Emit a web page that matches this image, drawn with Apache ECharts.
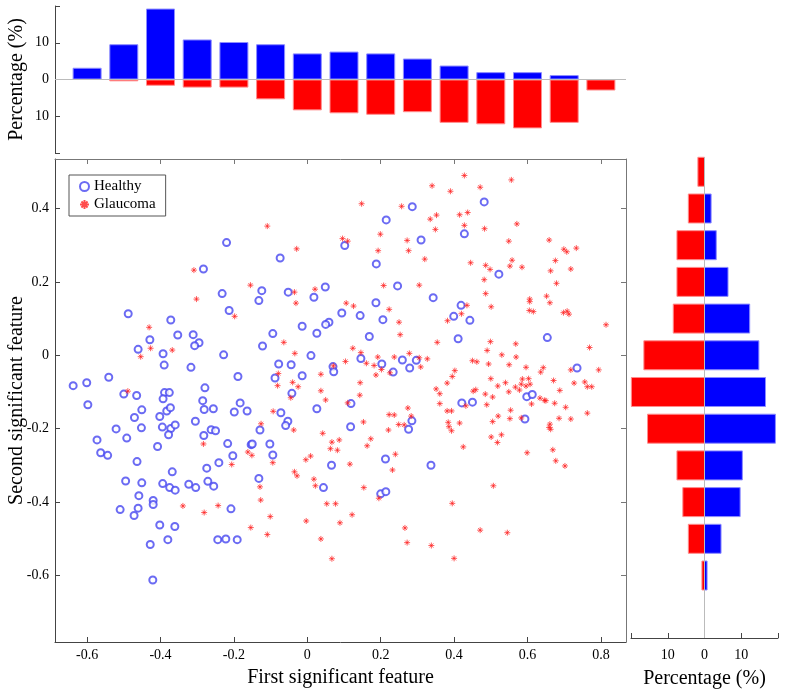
<!DOCTYPE html>
<html>
<head>
<meta charset="utf-8">
<script src="https://cdn.jsdelivr.net/npm/echarts@6/dist/echarts.min.js"></script>
<style>html,body{margin:0;padding:0;background:#fff}#c{width:785px;height:692px}</style>
</head>
<body>
<div id="c"></div>
<script>
// ---------------- data ----------------
var healthy = [
[-0.220,0.307],[-0.074,0.265],[-0.283,0.235],[-0.232,0.168],[-0.124,0.176],[-0.132,0.149],[-0.052,0.172],[0.018,0.158],[-0.488,0.113],[-0.213,0.122],[-0.372,0.096],[-0.014,0.079],[0.026,0.060],[-0.094,0.059],[-0.353,0.055],[-0.311,0.056],[-0.429,0.042],[-0.295,0.034],[-0.307,0.026],[-0.122,0.025],[-0.461,0.016],[-0.393,0.004],[-0.228,0.001],[0.010,-0.001],
[0.286,0.405],[0.482,0.418],[0.215,0.369],[0.310,0.314],[0.428,0.331],[0.102,0.299],[0.188,0.249],[0.522,0.221],[0.246,0.189],[0.049,0.186],[0.343,0.157],[0.187,0.143],[0.419,0.136],[0.094,0.115],[0.144,0.108],[0.399,0.106],[0.206,0.097],[0.443,0.095],[0.059,0.090],[0.050,0.084],[0.169,0.051],[0.411,0.045],[0.654,0.048],[0.146,-0.009],
[-0.390,-0.027],[-0.317,-0.033],[-0.541,-0.060],[-0.638,-0.083],[-0.601,-0.075],[-0.189,-0.058],[-0.078,-0.024],[-0.044,-0.026],[-0.088,-0.062],[-0.014,-0.056],[-0.500,-0.106],[-0.465,-0.110],[-0.389,-0.102],[-0.376,-0.102],[-0.393,-0.119],[-0.279,-0.089],[-0.598,-0.135],[-0.042,-0.104],[-0.285,-0.124],[-0.183,-0.130],[-0.451,-0.149],[-0.383,-0.152],[-0.373,-0.143],[-0.281,-0.148],[-0.256,-0.146],[-0.199,-0.155],[-0.164,-0.152],[-0.072,-0.157],[0.026,-0.146],[-0.471,-0.170],[-0.402,-0.167],[-0.521,-0.201],[-0.452,-0.198],[-0.395,-0.196],[-0.372,-0.200],[-0.360,-0.190],[-0.305,-0.180],[-0.262,-0.203],[-0.250,-0.206],[-0.053,-0.180],[-0.059,-0.192],[-0.129,-0.204],[-0.573,-0.231],[-0.492,-0.226],[-0.378,-0.217],[-0.282,-0.219],[-0.408,-0.249],[-0.563,-0.266],[-0.544,-0.273],[-0.217,-0.241],[-0.153,-0.244],[-0.150,-0.242],[-0.102,-0.242],[-0.203,-0.274],[-0.094,-0.272],[-0.464,-0.290],[-0.274,-0.308],[-0.241,-0.293],[-0.368,-0.318],[-0.495,-0.343],[-0.451,-0.348],[-0.394,-0.350],[-0.375,-0.361],[-0.360,-0.368],[-0.323,-0.352],[-0.304,-0.361],[-0.271,-0.344],[-0.255,-0.357],[-0.132,-0.336],[-0.459,-0.383],[-0.420,-0.396],[-0.420,-0.407],[-0.510,-0.421],[-0.461,-0.417],[-0.472,-0.437],[-0.208,-0.419],[-0.402,-0.463],[-0.361,-0.467],[-0.428,-0.516],[-0.380,-0.503],[-0.244,-0.503],[-0.222,-0.501],[-0.191,-0.503],[-0.421,-0.613],
[0.070,-0.031],[0.072,-0.045],[0.203,-0.024],[0.234,-0.046],[0.259,-0.013],[0.279,-0.035],[0.297,-0.014],[0.735,-0.035],[0.119,-0.132],[0.118,-0.195],[0.285,-0.179],[0.276,-0.202],[0.421,-0.130],[0.450,-0.128],[0.598,-0.113],[0.613,-0.107],[0.593,-0.174],[0.066,-0.300],[0.213,-0.283],[0.337,-0.300],[0.044,-0.361],[0.200,-0.378],[0.214,-0.372]
];
var glaucoma = [
[-0.109,0.352],[-0.029,0.290],[-0.309,0.232],[-0.155,0.191],[-0.035,0.172],[-0.031,0.142],[0.021,0.180],[-0.302,0.153],[-0.198,0.106],[-0.431,0.076],[-0.064,0.035],[-0.427,0.019],[-0.368,0.014],[-0.034,0.005],[-0.454,-0.004],
[0.428,0.490],[0.556,0.478],[0.340,0.462],[0.471,0.458],[0.390,0.447],[0.148,0.413],[0.257,0.406],[0.352,0.382],[0.335,0.371],[0.415,0.383],[0.437,0.389],[0.571,0.358],[0.428,0.354],[0.483,0.345],[0.349,0.343],[0.199,0.330],[0.096,0.318],[0.110,0.311],[0.272,0.313],[0.549,0.311],[0.659,0.314],[0.276,0.285],[0.193,0.285],[0.699,0.289],[0.707,0.282],[0.733,0.292],[0.320,0.262],[0.558,0.259],[0.676,0.258],[0.445,0.252],[0.486,0.245],[0.498,0.234],[0.552,0.243],[0.585,0.240],[0.663,0.230],[0.718,0.235],[0.482,0.206],[0.679,0.196],[0.208,0.190],[0.305,0.191],[0.486,0.168],[0.606,0.153],[0.606,0.146],[0.652,0.161],[0.661,0.143],[0.106,0.142],[0.126,0.134],[0.223,0.125],[0.435,0.136],[0.501,0.132],[0.605,0.122],[0.616,0.119],[0.698,0.116],[0.708,0.120],[0.713,0.112],[0.250,0.090],[0.382,0.094],[0.420,0.113],[0.814,0.083],[0.253,0.056],[0.354,0.035],[0.499,0.037],[0.568,0.031],[0.124,0.019],[0.146,0.007],[0.278,0.005],[0.490,0.013],[0.530,0.001],[0.769,0.021],
[-0.489,-0.098],[-0.079,-0.050],[-0.081,-0.083],[-0.040,-0.074],[-0.025,-0.086],[-0.045,-0.116],[-0.093,-0.153],[-0.126,-0.187],[-0.037,-0.204],[-0.283,-0.242],[-0.162,-0.264],[-0.151,-0.273],[-0.206,-0.298],[-0.094,-0.293],[0.009,-0.275],[-0.004,-0.285],[-0.035,-0.318],[-0.028,-0.329],[0.018,-0.338],[0.022,-0.356],[-0.129,-0.359],[-0.127,-0.395],[-0.339,-0.411],[-0.243,-0.410],[-0.281,-0.429],[-0.101,-0.440],[-0.003,-0.452],[-0.154,-0.470],[-0.109,-0.489],
[0.192,-0.005],[0.237,-0.005],[0.305,-0.007],[0.327,-0.010],[0.104,-0.017],[0.161,-0.022],[0.182,-0.028],[0.202,-0.039],[0.225,-0.048],[0.187,-0.054],[0.309,-0.032],[0.037,-0.052],[0.071,-0.029],[0.144,-0.075],[0.037,-0.097],[0.050,-0.122],[0.110,-0.130],[0.143,-0.109],[0.274,-0.144],[0.283,-0.166],[0.223,-0.162],[0.237,-0.163],[0.153,-0.182],[0.249,-0.189],[0.264,-0.190],[0.221,-0.204],[0.042,-0.213],[0.067,-0.237],[0.087,-0.231],[0.063,-0.255],[0.082,-0.259],[0.173,-0.228],[0.163,-0.247],[0.240,-0.270],[0.116,-0.297],[0.232,-0.313],[0.154,-0.361],[0.195,-0.390],[0.053,-0.405],[0.077,-0.405],[0.089,-0.457],[0.122,-0.435],[0.037,-0.501],[0.067,-0.555],[0.266,-0.471],[0.272,-0.511],[0.338,-0.519],[0.400,-0.554],[0.395,-0.404],[0.471,-0.477],[0.545,-0.484],[0.507,-0.356],
[0.569,-0.005],[0.450,-0.015],[0.462,-0.018],[0.494,-0.024],[0.550,-0.026],[0.596,-0.033],[0.643,-0.034],[0.636,-0.046],[0.718,-0.040],[0.794,-0.040],[0.402,-0.042],[0.395,-0.058],[0.381,-0.076],[0.500,-0.064],[0.540,-0.075],[0.586,-0.065],[0.603,-0.064],[0.583,-0.079],[0.607,-0.079],[0.519,-0.084],[0.567,-0.087],[0.578,-0.095],[0.671,-0.069],[0.727,-0.076],[0.756,-0.073],[0.763,-0.086],[0.775,-0.086],[0.688,-0.096],[0.351,-0.092],[0.361,-0.105],[0.361,-0.132],[0.452,-0.098],[0.459,-0.094],[0.485,-0.106],[0.505,-0.114],[0.549,-0.100],[0.596,-0.084],[0.634,-0.117],[0.646,-0.123],[0.650,-0.124],[0.611,-0.133],[0.674,-0.131],[0.704,-0.142],[0.489,-0.135],[0.432,-0.138],[0.381,-0.152],[0.393,-0.152],[0.554,-0.150],[0.520,-0.166],[0.552,-0.173],[0.583,-0.171],[0.686,-0.172],[0.718,-0.174],[0.763,-0.158],[0.384,-0.183],[0.386,-0.195],[0.393,-0.206],[0.415,-0.185],[0.505,-0.181],[0.661,-0.188],[0.659,-0.197],[0.663,-0.202],[0.501,-0.223],[0.529,-0.217],[0.518,-0.238],[0.425,-0.250],[0.599,-0.266],[0.669,-0.258],[0.677,-0.288],[0.702,-0.302]
];

// Top histogram (first feature), percent of each class
var topBins      = [-0.6,-0.5,-0.4,-0.3,-0.2,-0.1,0,0.1,0.2,0.3,0.4,0.5,0.6,0.7,0.8];
var topHealthy   = [3.2,9.6,19.3,10.9,10.2,9.6,7.1,7.6,7.1,5.7,3.8,2.0,2.0,1.2,0];
var topGlaucoma  = [0,0.5,1.7,2.2,2.2,5.4,8.4,9.2,9.6,8.9,11.8,12.2,13.3,11.8,3.0];

// Right histogram (second feature), percent of each class
var rightBins     = [0.5,0.4,0.3,0.2,0.1,0,-0.1,-0.2,-0.3,-0.4,-0.5,-0.6];
var rightHealthy  = [0,1.8,3.2,6.4,12.3,14.8,16.6,19.3,10.3,9.7,4.5,0.7];
var rightGlaucoma = [1.8,4.4,7.5,7.5,8.5,16.5,19.9,15.5,7.5,5.9,4.4,0.7];

// Tick values
var xTicks = [-0.6,-0.4,-0.2,0,0.2,0.4,0.6,0.8];
var yTicks = [-0.6,-0.4,-0.2,0,0.2,0.4];
var pctTicks = [-20,-10,0,10,20];
var pctLabels = [-10,0,10];

// ---------------- chart ----------------
var FONT = 'Liberation Serif';
var XMIN = -0.6875, XMAX = 0.8684, YMIN = -0.782, YMAX = 0.535;
var RYMIN = -0.7703, RYMAX = 0.5403;
var axisCol = '#444';
var BAR_H = 0.079;

function pairs(a, b, neg) { return a.map(function (v, i) { return [v, neg ? -b[i] : b[i]]; }); }
function rpairs(bins, vals, neg) { return bins.map(function (y, i) { return [neg ? -vals[i] : vals[i], y]; }); }

function hbar(color, edge) {
  return function (params, api) {
    var v = api.value(0), y = api.value(1);
    var a = api.coord([0, y]);
    var b = api.coord([v, y]);
    var h = api.size([0, BAR_H])[1];
    var w = Math.abs(b[0] - a[0]);
    if (w < 0.01) return null;
    return {
      type: 'rect',
      shape: { x: Math.min(a[0], b[0]), y: a[1] - h / 2, width: w, height: h },
      style: { fill: color, stroke: edge, lineWidth: 1 }
    };
  };
}

var star = 'path://M5,0L5,10M0,5L10,5M1.6,1.6L8.4,8.4M8.4,1.6L1.6,8.4';

var chart = echarts.init(document.getElementById('c'), null, { renderer: 'canvas' });
chart.setOption({
  animation: false,
  backgroundColor: '#fff',
  textStyle: { fontFamily: FONT },
  legend: {
    left: 69, top: 175, orient: 'vertical',
    padding: [4, 10, 4, 10], itemGap: 3, itemWidth: 9, itemHeight: 9,
    borderColor: '#555', borderWidth: 1, backgroundColor: '#fff', borderRadius: 0,
    textStyle: { fontFamily: FONT, fontSize: 15, color: '#000' },
    data: ['Healthy', 'Glaucoma']
  },
  grid: [
    { left: 55, top: 159, width: 571, height: 483, outerBoundsMode: 'none', containLabel: false },
    { left: 55, top: 6, width: 571, height: 147, outerBoundsMode: 'none', containLabel: false },
    { left: 631, top: 157, width: 147, height: 481, outerBoundsMode: 'none', containLabel: false }
  ],
  xAxis: [
    { gridIndex: 0, type: 'value', min: XMIN, max: XMAX, position: 'bottom',
      axisLine: { show: true, onZero: false, lineStyle: { color: axisCol } },
      axisTick: { show: true, inside: true, length: 5, customValues: xTicks, lineStyle: { color: axisCol } },
      axisLabel: { show: true, customValues: xTicks, fontFamily: FONT, fontSize: 14, color: '#000', margin: 6 },
      splitLine: { show: false },
      name: 'First significant feature', nameLocation: 'middle', nameGap: 26,
      nameTextStyle: { fontFamily: FONT, fontSize: 20, color: '#000' } },
    { gridIndex: 0, type: 'value', min: XMIN, max: XMAX, position: 'top',
      axisLine: { show: true, onZero: false, lineStyle: { color: '#777' } },
      axisTick: { show: true, inside: true, length: 5, customValues: xTicks, lineStyle: { color: '#777' } },
      axisLabel: { show: false }, splitLine: { show: false } },
    { gridIndex: 1, type: 'value', min: XMIN, max: XMAX, show: false },
    { gridIndex: 2, type: 'value', min: -20, max: 20, position: 'bottom',
      axisLine: { show: true, onZero: false, lineStyle: { color: axisCol } },
      axisTick: { show: true, inside: true, length: 5, customValues: pctTicks, lineStyle: { color: axisCol } },
      axisLabel: { show: true, customValues: pctLabels, formatter: function (v) { return String(Math.abs(v)); },
        fontFamily: FONT, fontSize: 14, color: '#000', margin: 10 },
      splitLine: { show: false },
      name: 'Percentage (%)', nameLocation: 'middle', nameGap: 31,
      nameTextStyle: { fontFamily: FONT, fontSize: 20, color: '#000' } }
  ],
  yAxis: [
    { gridIndex: 0, type: 'value', min: YMIN, max: YMAX, position: 'left',
      axisLine: { show: true, onZero: false, lineStyle: { color: axisCol } },
      axisTick: { show: true, inside: true, length: 5, customValues: yTicks, lineStyle: { color: axisCol } },
      axisLabel: { show: true, customValues: yTicks, fontFamily: FONT, fontSize: 14, color: '#000', margin: 6 },
      splitLine: { show: false },
      name: 'Second significant feature', nameLocation: 'middle', nameGap: 28, nameRotate: 90, nameMoveOverlap: false,
      nameTextStyle: { fontFamily: FONT, fontSize: 20, color: '#000' } },
    { gridIndex: 0, type: 'value', min: YMIN, max: YMAX, position: 'right',
      axisLine: { show: true, onZero: false, lineStyle: { color: '#777' } },
      axisTick: { show: true, inside: true, length: 5, customValues: yTicks, lineStyle: { color: '#777' } },
      axisLabel: { show: false }, splitLine: { show: false } },
    { gridIndex: 1, type: 'value', min: -20, max: 20, position: 'left',
      axisLine: { show: true, onZero: false, lineStyle: { color: axisCol } },
      axisTick: { show: true, inside: true, length: 5, customValues: pctTicks, lineStyle: { color: axisCol } },
      axisLabel: { show: true, customValues: pctLabels, formatter: function (v) { return String(Math.abs(v)); },
        fontFamily: FONT, fontSize: 14, color: '#000', margin: 6 },
      splitLine: { show: false },
      name: 'Percentage (%)', nameLocation: 'middle', nameGap: 28, nameRotate: 90, nameMoveOverlap: false,
      nameTextStyle: { fontFamily: FONT, fontSize: 20, color: '#000' } },
    { gridIndex: 2, type: 'value', min: RYMIN, max: RYMAX, show: false }
  ],
  series: [
    { name: 'Healthy', type: 'scatter', xAxisIndex: 0, yAxisIndex: 0, data: healthy,
      symbol: 'emptyCircle', symbolSize: 7,
      itemStyle: { color: '#4646f0', borderColor: '#4646f0', borderWidth: 0.8 } },
    { name: 'Glaucoma', type: 'scatter', xAxisIndex: 0, yAxisIndex: 0, data: glaucoma,
      symbol: star, symbolSize: 6,
      itemStyle: { color: '#ff2020', borderColor: '#ff2020', borderWidth: 0.9 } },
    { name: 'topH', type: 'bar', xAxisIndex: 2, yAxisIndex: 2, data: pairs(topBins, topHealthy, false),
      barWidth: 29, barGap: '-100%', itemStyle: { color: '#0000ff', borderColor: '#8c8cff', borderWidth: 1 },
      markLine: { silent: true, symbol: 'none', label: { show: false }, lineStyle: { color: '#bbb', type: 'solid', width: 1 },
        data: [{ yAxis: 0 }] } },
    { name: 'topG', type: 'bar', xAxisIndex: 2, yAxisIndex: 2, data: pairs(topBins, topGlaucoma, true),
      barWidth: 29, barGap: '-100%', itemStyle: { color: '#ff0000', borderColor: '#ff8c8c', borderWidth: 1 } },
    { name: 'rightH', type: 'custom', xAxisIndex: 3, yAxisIndex: 3, data: rpairs(rightBins, rightHealthy, false),
      renderItem: hbar('#0000ff', '#8c8cff'),
      markLine: { silent: true, symbol: 'none', label: { show: false }, lineStyle: { color: '#bbb', type: 'solid', width: 1 },
        data: [{ xAxis: 0 }] } },
    { name: 'rightG', type: 'custom', xAxisIndex: 3, yAxisIndex: 3, data: rpairs(rightBins, rightGlaucoma, true),
      renderItem: hbar('#ff0000', '#ff8c8c') }
  ]
});
</script>
</body>
</html>
